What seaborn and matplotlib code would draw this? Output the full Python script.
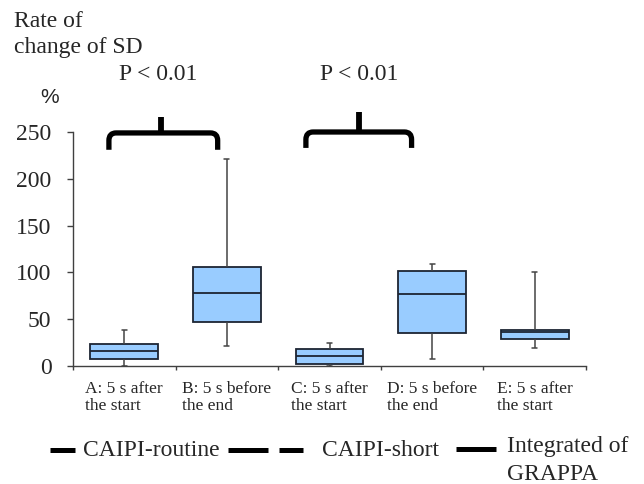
import numpy as np
import pandas as pd
import matplotlib
matplotlib.use("Agg")
import matplotlib.pyplot as plt
from matplotlib.path import Path
from matplotlib.patches import PathPatch
from matplotlib.lines import Line2D
import seaborn as sns

# ---- data ----
categories = ["A", "B", "C", "D", "E"]
tick_labels = ["A: 5 s after\nthe start", "B: 5 s before\nthe end",
               "C: 5 s after\nthe start", "D: 5 s before\nthe end",
               "E: 5 s after\nthe start"]
# five-number summaries: min, Q1, median, Q3, max
A_vals = [0.5, 8, 16.5, 23, 38.5]
B_vals = [21.5, 47, 78.5, 106, 221]
C_vals = [0.5, 2, 10.5, 18, 25]
D_vals = [7, 35.5, 76.5, 101.5, 108.5]
E_vals = [19.5, 28.5, 36, 38, 100]
y_ticks = [0, 50, 100, 150, 200, 250]
legend_labels = ["CAIPI-routine", "CAIPI-short", "Integrated of\nGRAPPA"]
p_text = "P < 0.01"

df = pd.DataFrame({
    "group": np.repeat(categories, 5),
    "value": A_vals + B_vals + C_vals + D_vals + E_vals,
})

W, H = 644, 484
SERIF = ["Liberation Serif", "DejaVu Serif"]
SANS = ["Liberation Sans", "DejaVu Sans"]

sns.set_theme(style="white")
plt.rcParams["font.family"] = SERIF

fig = plt.figure(figsize=(W / 100, H / 100), dpi=100)
ax = fig.add_axes([73 / W, 1 - 366 / H, (586 - 73) / W, (366 - 132) / H])

sns.boxplot(data=df, x="group", y="value", order=categories, ax=ax,
            color="#99CCFF", saturation=1, width=0.66, whis=(0, 100),
            linecolor="#1c2433", linewidth=1.3, fliersize=0,
            whiskerprops={"color": "#444444", "linewidth": 1.1},
            capprops={"color": "#444444", "linewidth": 1.1})

# shrink whisker caps to small ticks
for cont in ax.containers:
    for cap in getattr(cont, "caps", []):
        xd = np.asarray(cap.get_xdata(), dtype=float)
        c = xd.mean()
        cap.set_xdata([c - 0.025, c + 0.025])

ax.set_xlim(-0.5, 4.5)
ax.set_ylim(0, 250)
ax.set_yticks(y_ticks)
ax.set_yticklabels([str(t) for t in y_ticks], fontsize=17)
ax.set_xticks(range(len(categories)))
ax.set_xticklabels(tick_labels, fontsize=12.5, ha="center",
                   multialignment="left", linespacing=1.08)
ax.set_xticks(np.arange(-0.5, 5.0, 1.0), minor=True)
ax.set_xlabel("")
ax.set_ylabel("")
ax.tick_params(axis="x", which="major", length=0, pad=11)
ax.tick_params(axis="x", which="minor", length=2.8, width=1, color="#404040",
               direction="out", bottom=True)
ax.tick_params(axis="y", length=4.5, width=1, color="#404040", direction="out",
               left=True, pad=11)
for s in ["top", "right"]:
    ax.spines[s].set_visible(False)
for s in ["left", "bottom"]:
    ax.spines[s].set_color("#404040")
    ax.spines[s].set_linewidth(1.0)


# ---- curly braces (annotation, in data coordinates) ----
def brace(xl, xr, xm, yb, yh, yt, rx=0.07, ry=8):
    verts = [(xl, yb), (xl, yh - ry), (xl, yh), (xl + rx, yh),
             (xr - rx, yh), (xr, yh), (xr, yh - ry), (xr, yb)]
    codes = [Path.MOVETO, Path.LINETO, Path.CURVE3, Path.CURVE3,
             Path.LINETO, Path.CURVE3, Path.CURVE3, Path.LINETO]
    ax.add_patch(PathPatch(Path(verts, codes), fill=False, lw=3.8,
                           color="black", clip_on=False, capstyle="butt",
                           joinstyle="round"))
    ax.plot([xm, xm], [yh, yt], color="black", lw=4.2, clip_on=False,
            solid_capstyle="butt")


brace(-0.15, 0.91, 0.36, 231, 249, 266)
brace(1.77, 2.80, 2.29, 233, 250, 271)


def fx(px):
    return px / W


def fy(py):
    return 1 - py / H


fig.text(fx(158), fy(80), p_text, fontsize=17, ha="center", va="baseline")
fig.text(fx(359), fy(80), p_text, fontsize=17, ha="center", va="baseline")

fig.text(fx(14), fy(27), "Rate of", fontsize=17, ha="left", va="baseline")
fig.text(fx(14), fy(53), "change of SD", fontsize=17, ha="left", va="baseline")
fig.text(fx(49.5), fy(103), "%", fontsize=15, ha="center", va="baseline",
         family=SANS)

# ---- legend row ----
lw_leg = 3.6
fig.add_artist(Line2D([fx(50), fx(75)], [fy(450), fy(450)], color="black",
                      lw=lw_leg, solid_capstyle="butt"))
fig.text(fx(83), fy(456), legend_labels[0], fontsize=17, ha="left",
         va="baseline")
fig.add_artist(Line2D([fx(228), fx(268)], [fy(450), fy(450)], color="black",
                      lw=lw_leg, solid_capstyle="butt"))
fig.add_artist(Line2D([fx(279), fx(303)], [fy(450), fy(450)], color="black",
                      lw=lw_leg, solid_capstyle="butt"))
fig.text(fx(322), fy(456), legend_labels[1], fontsize=17, ha="left",
         va="baseline")
fig.add_artist(Line2D([fx(456), fx(496)], [fy(449), fy(449)], color="black",
                      lw=lw_leg, solid_capstyle="butt"))
fig.text(fx(507), fy(452), legend_labels[2].split("\n")[0], fontsize=17,
         ha="left", va="baseline")
fig.text(fx(507), fy(480), legend_labels[2].split("\n")[1], fontsize=17,
         ha="left", va="baseline")

fig.savefig("out.png", dpi=100)
